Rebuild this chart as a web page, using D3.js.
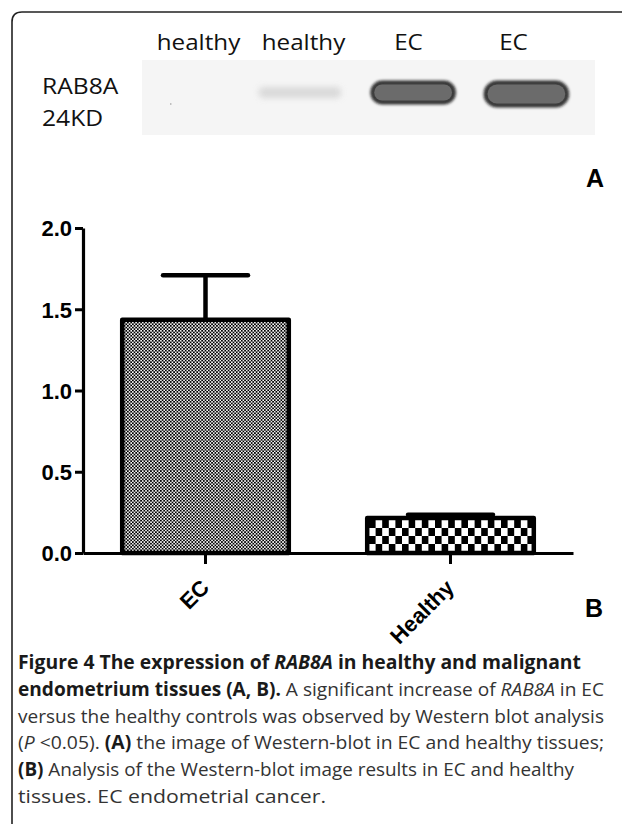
<!DOCTYPE html>
<html>
<head>
<meta charset="utf-8">
<script src="https://cdn.jsdelivr.net/npm/d3@7"></script>
<style>
  html, body { margin: 0; padding: 0; background: #fff; }
  svg { display: block; }
</style>
</head>
<body>
<svg id="fig" width="622" height="824"></svg>
<script>
// ---------- data ----------
const categories = ["EC", "Healthy"];
const means = [1.435, 0.215];
const errorTops = [1.71, 0.235];
const yTickValues = [0.0, 0.5, 1.0, 1.5, 2.0];
const laneLabels = ["healthy", "healthy", "EC", "EC"];
const laneIntensity = [0, 0.12, 1, 1];
const blotLabels = ["RAB8A", "24KD"];
const panelLetters = ["A", "B"];
const captionLines = [
  [["Figure 4 The expression of ", "b"], ["RAB8A", "bi"], [" in healthy and malignant", "b"]],
  [["endometrium tissues (A, B).", "b"], [" A significant increase of ", "r"], ["RAB8A", "i"], [" in EC", "r"]],
  [["versus the healthy controls was observed by Western blot analysis", "r"]],
  [["(", "r"], ["P", "i"], [" <0.05). ", "r"], ["(A)", "b"], [" the image of Western-blot in EC and healthy tissues;", "r"]],
  [["(B)", "b"], [" Analysis of the Western-blot image results in EC and healthy", "r"]],
  [["tissues. EC endometrial cancer.", "r"]]
];
const captionWidths = [563, 586, 586, 586, 556, 308];

// ---------- setup ----------
const svg = d3.select("#fig");
const defs = svg.append("defs");

// frame
svg.append("path")
  .attr("d", "M12,830 L12,22 Q12,12 22,12 L630,12")
  .attr("fill", "none").attr("stroke", "#222").attr("stroke-width", 1.6);

// patterns
const fine = defs.append("pattern").attr("id", "fine")
  .attr("patternUnits", "userSpaceOnUse").attr("width", 3.3).attr("height", 3.3);
fine.append("rect").attr("width", 3.3).attr("height", 3.3).attr("fill", "#fff");
fine.append("rect").attr("width", 1.75).attr("height", 1.75).attr("fill", "#000");
fine.append("rect").attr("x", 1.65).attr("y", 1.65).attr("width", 1.75).attr("height", 1.75).attr("fill", "#000");

const coarse = defs.append("pattern").attr("id", "coarse")
  .attr("patternUnits", "userSpaceOnUse").attr("width", 13.2).attr("height", 16)
  .attr("x", 369).attr("y", 520);
coarse.append("rect").attr("width", 13.2).attr("height", 16).attr("fill", "#fff");
coarse.append("rect").attr("width", 6.6).attr("height", 8).attr("fill", "#000");
coarse.append("rect").attr("x", 6.6).attr("y", 8).attr("width", 6.6).attr("height", 8).attr("fill", "#000");

const blur = defs.append("filter").attr("id", "blur").attr("x", "-30%").attr("y", "-60%").attr("width", "160%").attr("height", "220%");
blur.append("feGaussianBlur").attr("stdDeviation", 1.4);
const blur2 = defs.append("filter").attr("id", "blur2").attr("x", "-30%").attr("y", "-80%").attr("width", "160%").attr("height", "260%");
blur2.append("feGaussianBlur").attr("stdDeviation", 3);

// ---------- panel A: western blot ----------
const blotX = d3.scaleBand().domain(d3.range(laneLabels.length)).range([130, 583]);
const labelX = d3.scalePoint().domain(d3.range(laneLabels.length)).range([146, 566]).padding(0.5);

svg.append("rect").attr("x", 142).attr("y", 60).attr("width", 453).attr("height", 75)
  .attr("fill", "#f5f5f5");

svg.selectAll("text.lane").data(laneLabels).join("text")
  .attr("class", "lane")
  .attr("transform", (d, i) => `translate(${labelX(i)},50) scale(1.1,1)`)
  .attr("text-anchor", "middle")
  .attr("font-family", "Open Sans, sans-serif").attr("font-size", 22)
  .attr("fill", "#111")
  .text(d => d);

const bandW = blotX.bandwidth() * 0.73;
laneIntensity.forEach((v, i) => {
  if (v <= 0) return;
  const cx = blotX(i) + blotX.bandwidth() / 2;
  if (v < 0.5) {
    svg.append("rect").attr("x", cx - bandW / 2).attr("y", 87).attr("width", bandW).attr("height", 11)
      .attr("rx", 5).attr("fill", "#d6d6d6")
      .attr("opacity", 0.9).attr("filter", "url(#blur2)");
  } else {
    const h = i === 3 ? 24 : 21;
    const y0 = 82;
    svg.append("rect").attr("x", cx - bandW / 2).attr("y", y0).attr("width", bandW).attr("height", h)
      .attr("rx", h / 2).attr("fill", "#4a4a4a").attr("stroke", "#111").attr("stroke-width", 2.5)
      .attr("filter", "url(#blur)");
    svg.append("rect").attr("x", cx - bandW / 2 + 2.5).attr("y", y0 + 2.5).attr("width", bandW - 5).attr("height", h - 5)
      .attr("rx", h / 2 - 2.5).attr("fill", "#6b6b6b");
  }
});
// tiny speck
svg.append("circle").attr("cx", blotX(0) + blotX.bandwidth() * 0.36).attr("cy", 104).attr("r", 0.8).attr("fill", "#999");

svg.selectAll("text.blotlab").data(blotLabels).join("text")
  .attr("class", "blotlab")
  .attr("transform", (d, i) => `translate(42,${94 + i * 32}) scale(1.12,1)`)
  .attr("font-family", "Open Sans, sans-serif").attr("font-size", 22)
  .attr("fill", "#111")
  .text(d => d);

svg.append("text").attr("x", 586).attr("y", 187)
  .attr("font-family", "Liberation Sans, Arial, sans-serif").attr("font-weight", "bold")
  .attr("font-size", 25).text(panelLetters[0]);

// ---------- panel B: bar chart ----------
const y = d3.scaleLinear().domain([0, 2]).range([553, 228]);
const x = d3.scaleBand().domain(categories).range([83, 573]).paddingInner(0.32).paddingOuter(0.16);

const g = svg.append("g");

// bars
g.selectAll("rect.bar").data(categories).join("rect")
  .attr("class", "bar")
  .attr("x", d => x(d)).attr("width", x.bandwidth())
  .attr("y", (d, i) => y(means[i])).attr("height", (d, i) => y(0) - y(means[i]))
  .attr("fill", (d, i) => i === 0 ? "url(#fine)" : "url(#coarse)")
  .attr("stroke", "#000").attr("stroke-width", 4.5).attr("stroke-linejoin", "round");

// error bars
const capW = x.bandwidth() * 0.51;
categories.forEach((c, i) => {
  const cx = x(c) + x.bandwidth() / 2;
  g.append("line").attr("x1", cx).attr("x2", cx).attr("y1", y(means[i])).attr("y2", y(errorTops[i]))
    .attr("stroke", "#000").attr("stroke-width", 4.5);
  g.append("line").attr("x1", cx - capW / 2).attr("x2", cx + capW / 2).attr("y1", y(errorTops[i])).attr("y2", y(errorTops[i]))
    .attr("stroke", "#000").attr("stroke-width", 4.5).attr("stroke-linecap", "round");
});

// y axis
const yAxis = g.append("g").attr("transform", "translate(83,0)")
  .call(d3.axisLeft(y).tickValues(yTickValues).tickFormat(d3.format(".1f")).tickSize(8).tickSizeOuter(0).tickPadding(3));
yAxis.select(".domain").attr("stroke", "#000").attr("stroke-width", 3.2);
yAxis.selectAll(".tick line").attr("stroke", "#000").attr("stroke-width", 3);
yAxis.selectAll(".tick text")
  .attr("font-family", "Liberation Sans, Arial, sans-serif").attr("font-weight", "bold")
  .attr("font-size", 22).attr("fill", "#000").attr("dy", "0.36em");

// x axis
const xAxis = g.append("g").attr("transform", `translate(0,${y(0)})`)
  .call(d3.axisBottom(x).tickSize(11).tickSizeOuter(0).tickPadding(0).tickFormat(""));
xAxis.select(".domain").attr("stroke", "#000").attr("stroke-width", 3.2);
xAxis.selectAll(".tick line").attr("stroke", "#000").attr("stroke-width", 3);

g.selectAll("text.xlab").data(categories).join("text")
  .attr("class", "xlab")
  .attr("transform", d => `translate(${x(d) + x.bandwidth() / 2 + 5},${y(0) + 36}) rotate(-45)`)
  .attr("text-anchor", "end")
  .attr("font-family", "Liberation Sans, Arial, sans-serif").attr("font-weight", "bold")
  .attr("font-size", 22).attr("fill", "#000")
  .text(d => d);

svg.append("text").attr("x", 585).attr("y", 617)
  .attr("font-family", "Liberation Sans, Arial, sans-serif").attr("font-weight", "bold")
  .attr("font-size", 25).text(panelLetters[1]);

// ---------- caption ----------
captionLines.forEach((segs, li) => {
  const t = svg.append("text")
    .attr("x", 18).attr("y", 669 + li * 26.8)
    .attr("font-family", "Open Sans, sans-serif").attr("font-size", 19)
    .attr("textLength", captionWidths[li]).attr("lengthAdjust", "spacingAndGlyphs");
  segs.forEach(([s, st]) => {
    t.append("tspan")
      .attr("font-weight", st.includes("b") ? "bold" : "normal")
      .attr("font-style", st.includes("i") ? "italic" : "normal")
      .attr("fill", st.includes("b") ? "#1a1a1a" : "#333")
      .text(s);
  });
});
</script>
</body>
</html>
